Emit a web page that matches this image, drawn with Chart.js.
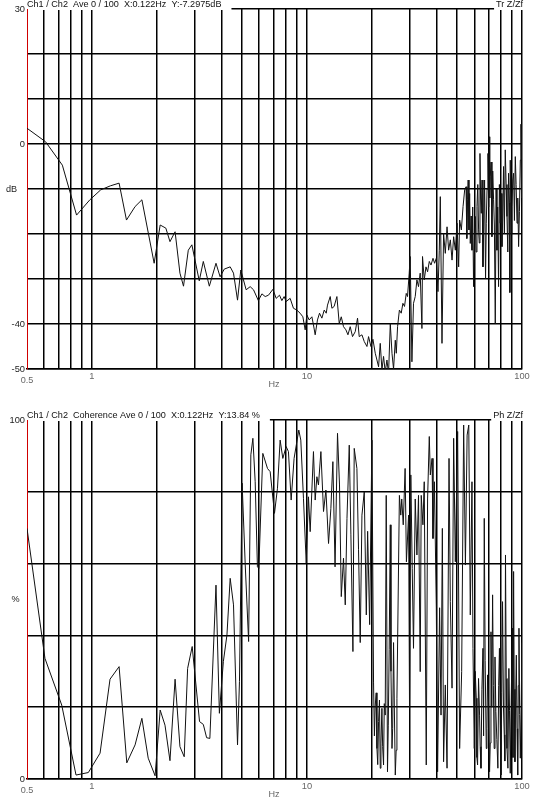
<!DOCTYPE html>
<html>
<head>
<meta charset="utf-8">
<script src="https://cdn.jsdelivr.net/npm/chart.js@4.4.1/dist/chart.umd.min.js"></script>
<style>
  html, body { margin: 0; padding: 0; background: #fff; }
  canvas { display: block; }
</style>
</head>
<body>
<canvas id="tf" width="536" height="403"></canvas>
<canvas id="coh" width="536" height="403"></canvas>
<script>
var FONT = "'Liberation Sans', Arial, sans-serif";

// log frequency grid (Hz) and the ones that get a label
var xGrid = [0.5, 0.6, 0.7, 0.8, 0.9, 1, 2, 3, 4, 5, 6, 7, 8, 9, 10, 20, 30, 40, 50, 60, 70, 80, 90, 100];
var xLabels = [1, 10, 100];

// Tr Z/Zf, dB
var tfFreq = [0.5, 0.61, 0.73, 0.85, 0.98, 1.10, 1.22, 1.34, 1.45, 1.59, 1.71, 1.95, 2.08, 2.21, 2.31, 2.44, 2.57, 2.67, 2.81, 2.92,
  3.16, 3.30, 3.52, 3.78, 3.95, 4.13, 4.40, 4.56, 4.76, 4.93, 5.22, 5.45, 5.65, 5.95, 6.18, 6.40, 6.63, 6.95, 7.20, 7.46,
  7.65, 7.84, 8.01, 8.36, 8.66, 8.98, 9.30, 9.58, 9.82, 10.0, 10.25, 10.55, 10.73, 10.93, 11.20, 11.45, 11.74, 12.04, 12.30, 12.47,
  12.84, 13.07, 13.39, 13.79, 14.14, 14.45, 14.80, 15.19, 15.52, 15.90, 16.30, 16.78, 17.20, 17.51, 18.03, 18.48, 19.02, 19.35, 19.85, 20.28,
  20.79, 21.17, 21.54, 21.93, 22.33, 22.72, 23.13, 23.56, 23.97, 24.42, 24.87, 25.29, 25.76, 26.04, 26.40, 26.92, 27.45, 27.95, 28.44, 28.96,
  29.36, 29.9, 30.22, 30.78, 31.31, 31.89, 32.47, 33.03, 33.64, 34.26, 34.48, 35.12, 35.78, 36.40, 37.07, 37.75, 38.57, 39.24, 39.96, 40.69,
  41.26, 41.71, 42.47, 43.20, 44.00, 44.83, 45.60, 46.44, 47.29, 48.11, 48.99, 49.89, 50.76, 51.30, 52.25, 53.21, 54.13, 54.94, 55.4, 55.85,
  56.2, 56.69, 57.1, 57.49, 58.0, 58.54, 59.0, 59.55, 60.1, 60.65, 61.2, 61.76, 62.3, 62.83, 63.3, 63.78, 64.2, 64.67, 65.2, 65.85,
  66.4, 67.00, 67.7, 68.22, 68.8, 69.47, 70.0, 70.45, 70.8, 71.20, 71.8, 72.47, 73.1, 73.77, 74.4, 75.12, 75.8, 76.48, 77.1, 77.80,
  78.5, 79.23, 80.0, 80.69, 81.4, 82.09, 82.8, 83.59, 84.4, 85.13, 85.9, 86.60, 87.4, 87.8, 88.19, 89.0, 89.8, 90.6, 91.40, 92.2,
  93.08, 93.9, 94.79, 95.6, 96.42, 97.3, 98.20, 98.9, 99.5, 100];
var tfDb = [3.5, 0.5, -4.7, -15.8, -12.4, -10.2, -9.3, -8.7, -16.9, -13.9, -12.4, -26.5, -18.0, -18.7, -21.7, -19.5, -28.7, -31.6, -23.6, -22.4,
  -30.4, -26.1, -31.6, -26.5, -29.5, -27.8, -27.3, -28.7, -34.7, -28.0, -32.4, -31.7, -32.4, -34.8, -33.3, -33.9, -33.6, -32.3, -34.3, -33.6,
  -34.8, -33.9, -35.0, -34.3, -36.5, -36.9, -37.6, -38.4, -41.3, -38.0, -39.1, -38.4, -40.2, -42.4, -39.1, -37.6, -38.7, -36.9, -37.6, -35.8,
  -33.9, -36.5, -36.1, -33.9, -39.9, -38.4, -40.6, -41.3, -42.4, -40.6, -42.8, -41.7, -38.7, -42.8, -42.4, -43.9, -45.0, -42.8, -45.0, -43.4,
  -46.5, -48.0, -49.5, -44.3, -50.2, -47.2, -50.6, -48.0, -51.0, -39.9, -46.5, -50.0, -43.6, -46.5, -40.6, -36.9, -37.6, -35.4, -36.1, -33.2,
  -33.9, -28.7, -25.0, -48.4, -35.4, -33.9, -30.2, -31.7, -28.7, -41.0, -25.0, -30.2, -27.3, -28.4, -26.1, -26.9, -25.4, -26.5, -25.4, -32.8,
  -23.6, -11.7, -44.3, -19.9, -24.3, -18.4, -23.6, -21.3, -25.8, -20.6, -23.6, -17.6, -27.3, -16.9, -19.1, -13.9, -10.2, -9.5, -21.0, -12.4,
  -8.0, -19.1, -11.0, -22.1, -16.0, -23.6, -14.0, -31.7, -20.0, -16.1, -24.0, -13.9, -9.0, -19.1, -22.0, -2.1, -12.0, -15.4, -8.0, -27.3,
  -18.0, -8.0, -30.0, -17.6, -10.0, -2.1, -14.0, 1.6, -12.0, -7.3, -4.0, -20.6, -6.0, -12.4, -18.0, -39.9, -10.0, -23.6, -14.0, -31.7,
  -9.0, -17.6, -11.0, -22.8, -16.0, -5.0, -20.0, -1.3, -9.0, -16.1, -24.0, -6.5, -13.0, -33.0, -3.6, -20.0, -13.9, -8.0, -6.5, -17.0,
  -2.8, -9.0, -17.6, -12.0, -22.8, -15.0, -3.6, 4.4, -12.0, -5.0];
var tfTicks = [30, 20, 10, 0, -10, -20, -30, -40, -50];
var tfLabels = [30, 0, -40, -50];

// coherence, %
var cohFreq = [0.5, 0.606, 0.725, 0.845, 0.964, 1.093, 1.216, 1.34, 1.455, 1.59, 1.71, 1.83, 1.97, 2.08, 2.19, 2.31, 2.44, 2.57, 2.69, 2.79,
  2.93, 3.17, 3.30, 3.42, 3.54, 3.78, 3.92, 4.09, 4.25, 4.40, 4.56, 4.76, 4.86, 5.00, 5.17, 5.36, 5.49, 5.61, 5.75, 5.89,
  5.98, 6.24, 6.56, 6.75, 7.07, 7.30, 7.51, 7.73, 8.01, 8.21, 8.45, 8.72, 9.17, 9.37, 9.64, 9.93, 10.17, 10.36, 10.73, 10.93,
  11.13, 11.32, 11.62, 11.95, 12.26, 12.61, 12.93, 13.21, 13.52, 13.88, 14.18, 14.45, 14.80, 15.08, 15.36, 15.74, 16.02, 16.37, 16.60, 17.08,
  17.38, 17.70, 18.03, 18.48, 18.89, 19.16, 19.58, 20.06, 20.41, 20.6, 20.79, 21.0, 21.17, 21.35, 21.54, 21.75, 21.93, 22.1, 22.33, 22.5,
  22.72, 22.9, 23.13, 23.38, 23.70, 23.9, 24.13, 24.42, 24.6, 24.87, 25.05, 25.29, 25.5, 25.76, 26.0, 26.22, 26.92, 27.32, 27.61, 28.05,
  28.62, 29.02, 29.70, 30.0, 30.42, 30.88, 31.31, 31.89, 32.47, 33.03, 33.64, 34.01, 34.63, 35.12, 35.89, 36.40, 37.07, 37.49, 38.18, 38.57,
  39.16, 39.96, 40.52, 41.40, 42.03, 42.63, 43.20, 44.00, 44.83, 45.79, 46.44, 47.29, 48.11, 48.99, 50.22, 51.30, 52.42, 53.56, 54.57, 55.57,
  56.57, 57.49, 58.54, 59.17, 60.0, 60.6, 61.30, 61.7, 62.16, 62.8, 63.50, 63.9, 64.46, 65.1, 65.85, 66.3, 66.77, 67.4, 68.22, 68.7,
  69.17, 69.9, 70.67, 71.2, 71.74, 72.4, 73.0, 73.6, 74.25, 74.9, 75.6, 76.4, 77.25, 77.9, 78.55, 79.2, 79.8, 80.5, 81.2, 82.0,
  82.7, 83.2, 83.8, 84.5, 85.13, 86.0, 86.9, 87.5, 88.19, 89.2, 90.2, 90.8, 91.4, 92.0, 92.7, 93.4, 94.1, 94.8, 95.5, 96.1,
  96.8, 97.5, 98.2, 99.1, 100];
var cohPct = [69.8, 33.6, 20.6, 1.1, 1.8, 7.2, 27.8, 31.3, 4.5, 9.5, 16.9, 5.8, 0.9, 19.2, 15.0, 5.1, 27.8, 9.0, 6.2, 30.8,
  36.9, 16.0, 15.2, 11.5, 11.3, 54.0, 18.3, 32.7, 40.1, 55.9, 48.5, 9.5, 27.1, 82.4, 59.6, 38.3, 90.3, 94.9, 82.8, 59.1,
  58.7, 90.7, 86.5, 85.6, 74.0, 81.0, 94.4, 89.3, 92.6, 91.2, 77.7, 89.3, 97.2, 94.4, 78.2, 60.1, 78.6, 68.9, 91.2, 77.7,
  84.2, 81.9, 91.2, 74.5, 80.5, 65.6, 75.4, 88.4, 59.1, 96.3, 81.9, 50.8, 61.5, 48.5, 72.6, 93.0, 68.0, 35.5, 92.1, 86.5,
  64.0, 38.0, 73.5, 80.0, 45.7, 69.0, 43.0, 94.4, 27.0, 12.0, 20.6, 24.0, 8.5, 4.0, 16.0, 22.0, 3.0, 10.0, 19.7, 9.0,
  3.9, 21.0, 17.8, 79.0, 2.0, 15.0, 36.0, 70.8, 30.0, 8.5, 14.0, 38.0, 20.0, 1.1, 8.0, 22.5, 79.0, 73.5, 78.0, 70.8,
  86.5, 60.5, 73.5, 19.7, 84.7, 58.7, 36.4, 78.0, 62.4, 79.0, 29.9, 79.0, 70.8, 82.8, 3.9, 78.0, 95.4, 84.7, 89.3, 67.0,
  82.8, 47.7, 2.0, 47.7, 17.8, 69.8, 4.8, 26.2, 3.0, 89.3, 49.4, 25.3, 94.9, 60.5, 96.8, 8.5, 29.9, 98.6, 59.6, 95.8,
  98.6, 45.7, 82.8, 36.4, 8.5, 30.0, 22.5, 6.0, 3.9, 28.0, 17.8, 9.0, 3.0, 25.0, 36.4, 12.0, 72.6, 33.0, 8.5, 14.0,
  29.0, 21.0, 2.0, 10.0, 41.0, 20.0, 51.3, 26.0, 8.5, 34.0, 18.8, 11.0, 3.0, 26.0, 36.4, 15.0, 1.1, 24.0, 49.4, 20.0,
  12.3, 5.0, 62.4, 28.0, 8.5, 3.0, 30.8, 19.0, 1.6, 24.0, 42.0, 6.0, 57.8, 25.0, 4.8, 22.0, 34.5, 14.0, 1.1, 26.0,
  42.0, 18.0, 5.8, 20.0, 38.0];
var cohTicks = [100, 80, 60, 40, 20, 0];
var cohLabels = [100, 0];

// header text, right tag and unit labels drawn round the plot area
var decor = {
  id: 'decor',
  afterDraw: function (chart, args, opts) {
    var ctx = chart.ctx, a = chart.chartArea;
    var ty = a.top - 4.5;
    ctx.save();
    ctx.font = '9.1px ' + FONT;
    ctx.textBaseline = 'middle';

    var w = ctx.measureText(opts.header).width;
    ctx.fillStyle = '#fff';
    ctx.fillRect(a.left + 1, a.top - 9, w + 9, 10);
    ctx.fillStyle = '#111';
    ctx.textAlign = 'left';
    ctx.fillText(opts.header, a.left, ty);

    var tw = ctx.measureText(opts.tag).width;
    ctx.fillStyle = '#fff';
    ctx.fillRect(a.right - tw - 1, a.top - 9, tw + 4, 10);
    ctx.fillStyle = '#111';
    ctx.textAlign = 'right';
    ctx.fillText(opts.tag, a.right + 1, ty);

    ctx.textAlign = 'left';
    ctx.fillStyle = '#222';
    ctx.fillText(opts.unit, opts.unitX, (a.top + a.bottom) / 2);

    ctx.textAlign = 'center';
    ctx.fillStyle = '#666';
    ctx.fillText('Hz', 274, a.bottom + 15.5);
    ctx.fillText('0.5', a.left, a.bottom + 11);
    ctx.restore();
  }
};

function makeChart(id, freq, values, yMin, yMax, yTicks, yLabels, xHeight, topPad, decorOpts) {
  var points = freq.map(function (f, i) { return { x: f, y: values[i] }; });
  return new Chart(document.getElementById(id).getContext('2d'), {
    type: 'line',
    data: {
      datasets: [{
        data: points,
        borderColor: '#111',
        borderWidth: 1,
        pointRadius: 0,
        tension: 0
      }]
    },
    plugins: [decor],
    options: {
      responsive: false,
      animation: false,
      layout: { padding: { left: 0, right: 14, top: topPad, bottom: 0 } },
      plugins: {
        legend: { display: false },
        tooltip: { enabled: false },
        decor: decorOpts
      },
      scales: {
        x: {
          type: 'logarithmic',
          min: 0.5,
          max: 100,
          afterBuildTicks: function (s) { s.ticks = xGrid.map(function (v) { return { value: v }; }); },
          afterFit: function (s) { s.height = xHeight; },
          grid: {
            color: function (c) { return c.tick && c.tick.value === 0.5 ? 'rgba(0,0,0,0)' : '#000'; },
            lineWidth: 1.5,
            drawTicks: false
          },
          border: { color: '#000', width: 1.5 },
          ticks: {
            autoSkip: false,
            maxRotation: 0,
            padding: 2,
            color: '#666',
            font: { family: FONT, size: 9.3 },
            callback: function (v) { return xLabels.indexOf(v) >= 0 ? String(v) : ''; }
          }
        },
        y: {
          min: yMin,
          max: yMax,
          afterBuildTicks: function (s) { s.ticks = yTicks.map(function (v) { return { value: v }; }); },
          afterFit: function (s) { s.width = 27; },
          grid: { color: '#000', lineWidth: 1.5, drawTicks: false },
          border: { color: '#d00000', width: 1 },
          ticks: {
            padding: 2,
            color: '#222',
            font: { family: FONT, size: 9.3 },
            callback: function (v) { return yLabels.indexOf(v) >= 0 ? String(v) : ''; }
          }
        }
      }
    }
  });
}

var tfChart = makeChart('tf', tfFreq, tfDb, -50, 30, tfTicks, tfLabels, 34, 9, {
  header: 'Ch1 / Ch2  Ave 0 / 100  X:0.122Hz  Y:-7.2975dB',
  tag: 'Tr Z/Zf',
  unit: 'dB',
  unitX: 6
});

var cohChart = makeChart('coh', cohFreq, cohPct, 0, 100, cohTicks, cohLabels, 27, 17, {
  header: 'Ch1 / Ch2  Coherence Ave 0 / 100  X:0.122Hz  Y:13.84 %',
  tag: 'Ph Z/Zf',
  unit: '%',
  unitX: 11.5
});
</script>
</body>
</html>
